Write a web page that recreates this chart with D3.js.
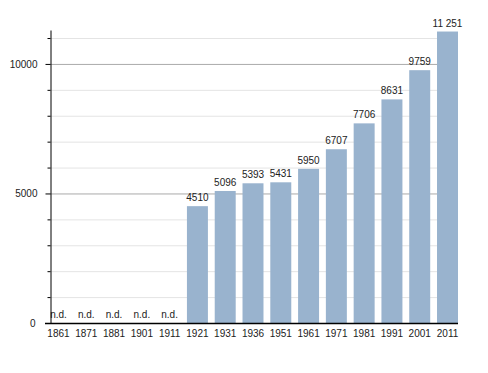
<!DOCTYPE html>
<html>
<head>
<meta charset="utf-8">
<script src="https://cdn.jsdelivr.net/npm/d3@7"></script>
<style>
  body { margin: 0; background: #fff; }
  text { font-family: "Liberation Sans", Arial, sans-serif; font-size: 10px; fill: #222; }
</style>
</head>
<body>
<svg width="488" height="373"></svg>
<script>
const years = ["1861", "1871", "1881", "1901", "1911", "1921", "1931", "1936", "1951", "1961", "1971", "1981", "1991", "2001", "2011"];
const population = [null, null, null, null, null, 4510, 5096, 5393, 5431, 5950, 6707, 7706, 8631, 9759, 11251];
const majorTicks = [0, 5000, 10000];
const minorTicks = [1000, 2000, 3000, 4000, 6000, 7000, 8000, 9000, 11000];

const data = years.map((y, i) => ({ year: y, value: population[i] }));

const svg = d3.select("svg");
const plot = { left: 50, right: 458, top: 30, bottom: 323 };

const x = d3.scaleBand()
  .domain(years)
  .range([48, plot.right])
  .paddingInner(0.245)
  .paddingOuter(0);

const y = d3.scaleLinear()
  .domain([0, 11310])
  .range([plot.bottom, plot.top]);

const fmt = (v) => v >= 10000 ? d3.format(",")(v).replace(/,/g, " ") : String(v);

// grid lines
svg.append("g")
  .selectAll("line")
  .data(minorTicks)
  .join("line")
  .attr("x1", plot.left)
  .attr("x2", plot.right)
  .attr("y1", (d) => y(d) + 0.5)
  .attr("y2", (d) => y(d) + 0.5)
  .attr("stroke", "#e4e4e4");
svg.append("g")
  .selectAll("line")
  .data(majorTicks.filter((d) => d > 0))
  .join("line")
  .attr("x1", plot.left)
  .attr("x2", plot.right)
  .attr("y1", (d) => y(d) + 0.5)
  .attr("y2", (d) => y(d) + 0.5)
  .attr("stroke", "#aaa");

// bars
svg.append("g")
  .selectAll("rect")
  .data(data.filter((d) => d.value !== null))
  .join("rect")
  .attr("x", (d) => x(d.year))
  .attr("width", x.bandwidth())
  .attr("y", (d) => y(d.value))
  .attr("height", (d) => y(0) - y(d.value))
  .attr("fill", "#99b3ce");

// value labels
svg.append("g")
  .selectAll("text")
  .data(data)
  .join("text")
  .attr("x", (d) => x(d.year) + x.bandwidth() / 2)
  .attr("y", (d) => d.value === null ? y(0) - 5 : y(d.value) - 5)
  .attr("text-anchor", "middle")
  .text((d) => d.value === null ? "n.d." : fmt(d.value));

// y axis
const yAxis = d3.axisLeft(y)
  .tickValues(majorTicks)
  .tickSize(5)
  .tickSizeOuter(0)
  .tickPadding(8)
  .tickFormat(d3.format("d"));
const gy = svg.append("g")
  .attr("transform", `translate(${plot.left + 0.5},0)`)
  .call(yAxis);
gy.select(".domain").attr("stroke", "#000");
gy.selectAll(".tick line").attr("stroke", "#000");
gy.selectAll(".tick text").style("font-size", "10px").attr("fill", "#222");
gy.selectAll(".tick").filter((d) => d === 0).select("line").remove();
gy.selectAll(".tick").filter((d) => d === 0).select("text").attr("x", -15);

svg.append("g")
  .attr("transform", `translate(${plot.left + 0.5},0)`)
  .selectAll("line")
  .data(minorTicks)
  .join("line")
  .attr("x1", -3)
  .attr("x2", 0)
  .attr("y1", (d) => y(d) + 0.5)
  .attr("y2", (d) => y(d) + 0.5)
  .attr("stroke", "#000");

// x axis
const xAxis = d3.axisBottom(x).tickSize(0).tickPadding(6);
const gx = svg.append("g")
  .attr("transform", `translate(0,${plot.bottom + 0.5})`)
  .call(xAxis);
gx.select(".domain").remove();
gx.selectAll(".tick text").style("font-size", "10px").attr("fill", "#222");
svg.append("line")
  .attr("x1", 45)
  .attr("x2", plot.right)
  .attr("y1", plot.bottom + 0.5)
  .attr("y2", plot.bottom + 0.5)
  .attr("stroke", "#000")
  .attr("stroke-width", 1.5);
</script>
</body>
</html>
